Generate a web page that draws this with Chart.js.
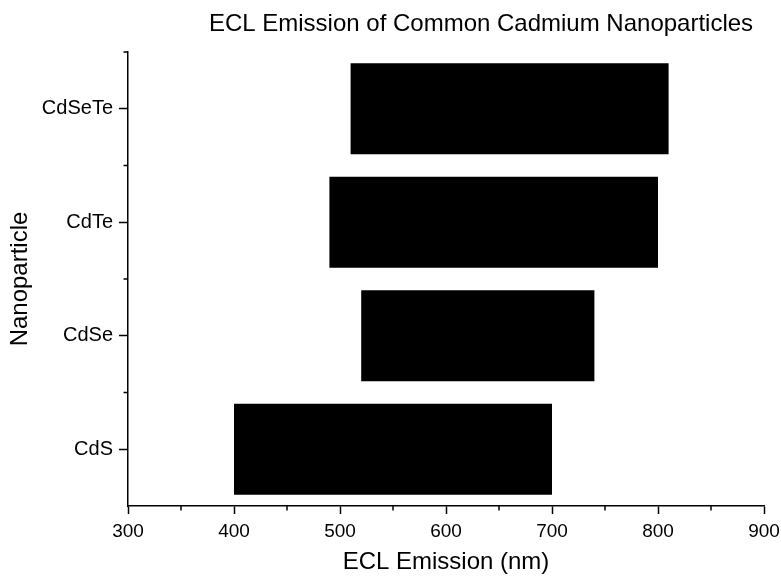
<!DOCTYPE html>
<html>
<head>
<meta charset="utf-8">
<script src="https://cdn.jsdelivr.net/npm/chart.js@4"></script>
<style>
  body { margin: 0; background: #fff; }
  #wrap { width: 781px; height: 578px; }
</style>
</head>
<body>
<div id="wrap"><canvas id="grafico"></canvas></div>
<script>
// datos (de abajo hacia arriba)
const particulas = ['CdS', 'CdSe', 'CdTe', 'CdSeTe'];
const inicio = [400, 520, 490, 510];
const fin = [700, 740, 800, 810];
const ticksX = [300, 400, 500, 600, 700, 800, 900];
const menoresX = [350, 450, 550, 650, 750, 850];

const fuente = 'Arial, "Liberation Sans", sans-serif';

// ticks menores y título centrado a mano
const extras = {
    id: 'extras',
    afterDraw(chart) {
        const ctx = chart.ctx;
        const x = chart.scales.x;
        const y = chart.scales.y;
        const area = chart.chartArea;
        ctx.save();
        ctx.strokeStyle = '#000';
        ctx.lineWidth = 1.5;
        ctx.beginPath();
        menoresX.forEach(v => {
            const px = x.getPixelForValue(v);
            ctx.moveTo(px, area.bottom);
            ctx.lineTo(px, area.bottom + 4.5);
        });
        // límites entre categorías
        for (let i = 0; i < particulas.length; i++) {
            const py = y.getPixelForValue(i) - (y.getPixelForValue(0) - y.getPixelForValue(1)) / 2;
            ctx.moveTo(area.left, py);
            ctx.lineTo(area.left - 4.5, py);
        }
        ctx.stroke();

        ctx.fillStyle = '#000';
        ctx.font = '24px ' + fuente;
        ctx.textAlign = 'center';
        ctx.textBaseline = 'alphabetic';
        ctx.fillText('ECL Emission of Common Cadmium Nanoparticles', 481, 31);
        ctx.restore();
    }
};

new Chart(document.getElementById('grafico'), {
    type: 'bar',
    data: {
        labels: particulas,
        datasets: [{
            data: particulas.map((p, i) => [inicio[i], fin[i]]),
            backgroundColor: '#000',
            borderWidth: 0,
            barPercentage: 0.8,
            categoryPercentage: 1
        }]
    },
    options: {
        indexAxis: 'y',
        responsive: true,
        maintainAspectRatio: false,
        animation: false,
        layout: { padding: { left: 0, right: 17, top: 52, bottom: 0 } },
        plugins: {
            legend: { display: false },
            title: { display: false },
            tooltip: { enabled: false }
        },
        scales: {
            x: {
                type: 'linear',
                min: 300,
                max: 900,
                afterBuildTicks: s => { s.ticks = ticksX.map(v => ({ value: v })); },
                afterFit: s => { s.height = 72; s.paddingRight = 0; s.paddingLeft = 0; },
                grid: { drawOnChartArea: false, tickLength: 8, tickColor: '#000', tickWidth: 1.5 },
                border: { color: '#000', width: 1.5 },
                ticks: { color: '#000', font: { size: 19, family: fuente }, padding: 6, maxRotation: 0 },
                title: { display: true, text: 'ECL Emission (nm)', color: '#000', font: { size: 24, family: fuente }, padding: { bottom: 1 } }
            },
            y: {
                type: 'category',
                reverse: true,
                offset: true,
                afterFit: s => { s.width = 128; s.paddingTop = 0; s.paddingBottom = 0; },
                grid: { drawOnChartArea: false, offset: false, tickLength: 9, tickColor: '#000', tickWidth: 1.5 },
                border: { color: '#000', width: 1.5 },
                ticks: { color: '#000', font: { size: 20, family: fuente }, padding: 6 },
                title: { display: true, text: 'Nanoparticle', color: '#000', font: { size: 24, family: fuente }, padding: { top: 6 } }
            }
        }
    },
    plugins: [extras]
});
</script>
</body>
</html>
